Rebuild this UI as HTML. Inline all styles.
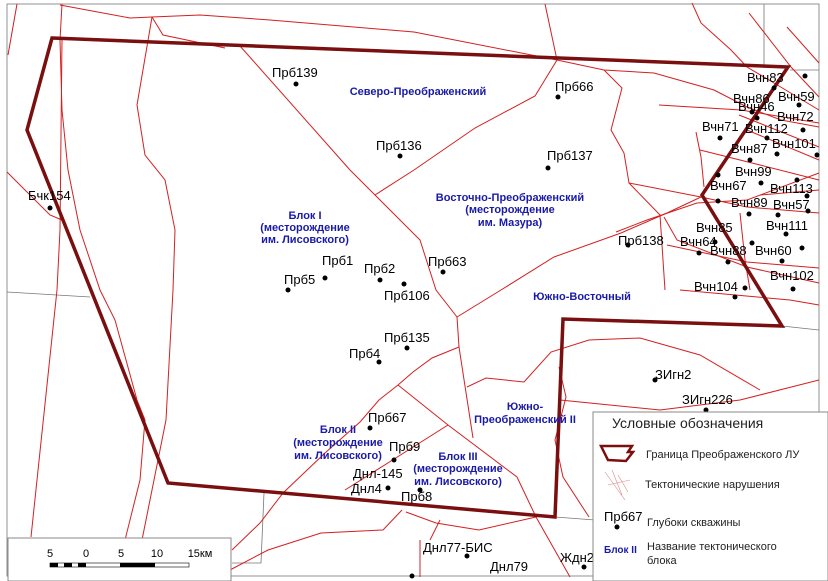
<!DOCTYPE html>
<html><head><meta charset="utf-8"><style>
body{margin:0;background:#fff}
svg{display:block;font-family:"Liberation Sans",sans-serif}
.w{font-size:13px;fill:#000}
.b{font-size:11px;font-weight:bold;fill:#1a1aa8;text-anchor:middle}
</style></head><body>
<svg width="828" height="581" viewBox="0 0 828 581">
<rect width="828" height="581" fill="#fff"/>
<g stroke="#777" stroke-width="0.8" fill="none">
<rect x="7" y="4" width="812" height="572"/>
<path d="M7 292 L90 297"/>
<path d="M764 4 L764 66 M790 70 L819 70"/>
<path d="M264 493 L261 563 L232 563"/>
<path d="M555 517 L595 520"/>
<path d="M782 326 L819 330"/>
</g>
<g stroke="#d42020" stroke-width="1" fill="none">
<path d="M17 4 L8 55"/>
<path d="M62 4 L60 40 L62 110 L68 170 L80 230 L100 290 L115 320 L137 400 L145 420 L140 480 L125 540"/>
<path d="M62 40 L60 230 L57 290 L31 537"/>
<path d="M152 17 L137 105 L145 155 L165 180 L175 230 L173 290 L166 420 L142 540"/>
<path d="M60 5 L130 18 L152 17 L200 15 L270 20 L414 32 L557 60 L604 70 L654 73 L714 90 L747 107 L781 120 L819 127"/>
<path d="M152 17 L163 35 L225 48"/>
<path d="M7 172 L50 215 L62 220"/>
<path d="M240 46 L350 170 L375 195 L420 240 L436 290 L457 317"/>
<path d="M375 195 L414 170 L475 128 L535 96 L557 60 L545 4"/>
<path d="M604 70 L622 88 L611 130 L624 153 L629 183 L701 197 L747 207 L819 213"/>
<path d="M629 183 L660 215 L665 290"/>
<path d="M457 317 L501 290 L554 257 L621 233 L667 213 L701 197"/>
<path d="M616 232 L647 220 L697 203 L747 200 L819 173"/>
<path d="M664 217 L677 240 L747 267 L819 283"/>
<path d="M667 245 L747 262 L819 268"/>
<path d="M740 213 L745 260 L750 290"/>
<path d="M457 317 L459 347 L473 438"/>
<path d="M459 347 L432 358 L413 372 L398 385 L379 400 L360 422 L325 453 L283 493 L260 523 L232 550"/>
<path d="M398 385 L448 425 L517 477 L536 517 L570 577"/>
<path d="M448 425 L345 490"/>
<path d="M402 510 L383 530 L321 533 L268 550 L230 570"/>
<path d="M406 512 L436 523 L479 530 L536 517"/>
<path d="M467 387 L486 378 L524 382 L551 352 L589 340 L640 338 L700 355 L760 390"/>
<path d="M559 367 L566 397 L555 440 L563 477 L589 517"/>
<path d="M560 400 L660 410 L740 400 L819 380"/>
<path d="M692 3 L701 23 L731 50 L747 67 L774 83 L819 110"/>
<path d="M749 13 L791 67 L819 97"/>
<path d="M787 27 L819 63"/>
<path d="M659 105 L741 110 L819 123"/>
<path d="M739 115 L819 147"/>
<path d="M747 130 L819 160"/>
<path d="M696 132 L701 157 L704 187"/>
<path d="M700 150 L760 165 L819 180"/>
<path d="M760 195 L819 190"/>
<path d="M680 290 L790 300 L819 305"/>
<path d="M430 540 L440 520"/>
<path d="M420 540 L420 577"/>
</g>
<path d="M52 38 L788 67 L702 195 L782 326 L563 319 L555 517 L168 483 L27 130 Z" fill="none" stroke="#7a0f0f" stroke-width="3.5" stroke-linejoin="miter"/>
<g fill="#000">
<circle cx="296" cy="84" r="2.5"/><circle cx="558" cy="97" r="2.5"/><circle cx="400" cy="156" r="2.5"/>
<circle cx="548" cy="168" r="2.5"/><circle cx="50" cy="208" r="2.5"/><circle cx="288" cy="290" r="2.5"/>
<circle cx="325" cy="278" r="2.5"/><circle cx="380" cy="280" r="2.5"/><circle cx="404" cy="284" r="2.5"/>
<circle cx="443" cy="272" r="2.5"/><circle cx="407" cy="348" r="2.5"/><circle cx="379" cy="362" r="2.5"/>
<circle cx="370" cy="428" r="2.5"/><circle cx="394" cy="460" r="2.5"/><circle cx="388" cy="488" r="2.5"/>
<circle cx="420" cy="490" r="2.5"/><circle cx="628" cy="245" r="2.5"/><circle cx="655" cy="380" r="2.5"/>
<circle cx="706" cy="410" r="2.5"/><circle cx="745" cy="288" r="2.5"/>
<circle cx="805" cy="76" r="2.5"/><circle cx="774" cy="88" r="2.5"/><circle cx="799" cy="105" r="2.5"/>
<circle cx="752" cy="112" r="2.5"/><circle cx="757" cy="118" r="2.5"/><circle cx="803" cy="130" r="2.5"/>
<circle cx="720" cy="138" r="2.5"/><circle cx="767" cy="138" r="2.5"/><circle cx="777" cy="154" r="2.5"/>
<circle cx="817" cy="155" r="2.5"/><circle cx="750" cy="160" r="2.5"/><circle cx="797" cy="180" r="2.5"/>
<circle cx="718" cy="175" r="2.5"/><circle cx="761" cy="183" r="2.5"/><circle cx="807" cy="196" r="2.5"/>
<circle cx="718" cy="201" r="2.5"/><circle cx="749" cy="214" r="2.5"/><circle cx="778" cy="215" r="2.5"/>
<circle cx="808" cy="211" r="2.5"/><circle cx="786" cy="234" r="2.5"/><circle cx="715" cy="242" r="2.5"/>
<circle cx="752" cy="243" r="2.5"/><circle cx="802" cy="248" r="2.5"/><circle cx="699" cy="253" r="2.5"/>
<circle cx="728" cy="262" r="2.5"/><circle cx="782" cy="261" r="2.5"/><circle cx="793" cy="289" r="2.5"/>
<circle cx="735" cy="297" r="2.5"/><circle cx="467" cy="556" r="2.5"/><circle cx="412" cy="576" r="2.5"/>
<circle cx="584" cy="567" r="2.5"/>
</g>
<g class="w">
<text x="272" y="77">Прб139</text><text x="555" y="91">Прб66</text><text x="376" y="150">Прб136</text>
<text x="547" y="160">Прб137</text><text x="28" y="200">Бчк154</text><text x="284" y="284">Прб5</text>
<text x="322" y="265">Прб1</text><text x="364" y="273">Прб2</text><text x="428" y="266">Прб63</text>
<text x="384" y="300">Прб106</text><text x="384" y="342">Прб135</text><text x="349" y="358">Прб4</text>
<text x="368" y="422">Прб67</text><text x="389" y="451">Прб9</text><text x="353" y="478">Днл-145</text>
<text x="351" y="493">Днл4</text><text x="401" y="501">Прб8</text><text x="618" y="245">Прб138</text>
<text x="655" y="379">ЗИгн2</text><text x="682" y="404">ЗИгн226</text>
<text x="423" y="552">Днл77-БИС</text><text x="490" y="571">Днл79</text><text x="560" y="562">Ждн2</text>
<text x="747" y="82">Вчн83</text><text x="778" y="101">Вчн59</text><text x="733" y="103">Вчн86</text>
<text x="738" y="111">Вчн46</text><text x="777" y="121">Вчн72</text><text x="702" y="131">Вчн71</text>
<text x="745" y="133">Вчн112</text><text x="772" y="148">Вчн101</text><text x="731" y="153">Вчн87</text>
<text x="735" y="176">Вчн99</text><text x="710" y="190">Вчн67</text><text x="770" y="193">Вчн113</text>
<text x="731" y="207">Вчн89</text><text x="773" y="209">Вчн57</text><text x="766" y="230">Вчн111</text>
<text x="696" y="232">Вчн85</text><text x="680" y="246">Вчн64</text><text x="710" y="255">Вчн88</text>
<text x="755" y="255">Вчн60</text><text x="770" y="280">Вчн102</text><text x="694" y="291">Вчн104</text>
</g>
<g class="b">
<text x="418" y="95">Северо-Преображенский</text>
<text x="305" y="219">Блок I</text><text x="305" y="231">(месторождение</text><text x="305" y="243">им. Лисовского)</text>
<text x="510" y="201">Восточно-Преображенский</text><text x="510" y="213">(месторождение</text><text x="510" y="226">им. Мазура)</text>
<text x="582" y="300">Южно-Восточный</text>
<text x="525" y="410">Южно-</text><text x="525" y="423">Преображенский II</text>
<text x="338" y="433">Блок II</text><text x="338" y="446">(месторождение</text><text x="338" y="459">им. Лисовского)</text>
<text x="458" y="460">Блок III</text><text x="458" y="472">(месторождение</text><text x="458" y="485">им. Лисовского)</text>
</g>
<rect x="593" y="412" width="235" height="169" fill="#fff" stroke="#888" stroke-width="1"/>
<text x="612" y="428" font-size="14" fill="#222">Условные обозначения</text>
<path d="M601 446 L632 446 L628 452 L633 452 L626 461 L608 460 Z" fill="none" stroke="#7a0f0f" stroke-width="2.5"/>
<text x="646" y="458" font-size="11" fill="#222">Граница Преображенского ЛУ</text>
<g stroke="#d88" stroke-width="0.6" fill="none"><path d="M605 472 L625 500 M612 470 L622 495 M618 475 L628 492 M608 485 L630 480"/></g>
<text x="645" y="488" font-size="11" fill="#222">Тектонические нарушения</text>
<text x="604" y="521" font-size="13" fill="#000">Прб67</text><circle cx="617" cy="527" r="2.5" fill="#000"/>
<text x="647" y="526" font-size="11" fill="#222">Глубоки скважины</text>
<text x="604" y="553" font-size="10" font-weight="bold" fill="#1a1aa8">Блок II</text>
<text x="647" y="550" font-size="11" fill="#222">Название тектонического</text>
<text x="647" y="564" font-size="11" fill="#222">блока</text>
<rect x="8" y="538" width="223" height="43" fill="#fff" stroke="#888"/>
<g font-size="11" fill="#000" text-anchor="middle">
<text x="50" y="557">5</text><text x="86" y="557">0</text><text x="121" y="557">5</text><text x="157" y="557">10</text><text x="200" y="557">15км</text>
</g>
<rect x="50" y="563" width="139" height="4" fill="#fff" stroke="#000" stroke-width="0.6"/>
<g fill="#000"><rect x="50" y="563" width="8" height="4"/><rect x="64" y="563" width="8" height="4"/><rect x="78" y="563" width="8" height="4"/><rect x="120" y="563" width="35" height="4"/></g>
</svg>
</body></html>
